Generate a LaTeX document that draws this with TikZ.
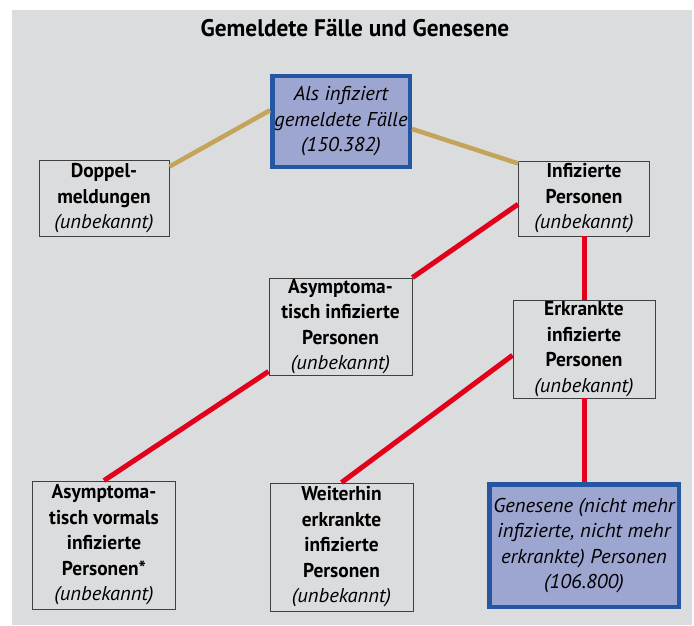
\documentclass[tikz,border=0pt]{standalone}
\usepackage{fontspec}
\setmainfont{PT Sans}[ItalicFeatures={FakeStretch=1.03}, BoldFeatures={FakeStretch=0.97}]
\usetikzlibrary{positioning}
\definecolor{bggray}{HTML}{DBDCDE}
\definecolor{boxblue}{HTML}{9DA5D1}
\definecolor{rimblue}{HTML}{2556A1}
\definecolor{linered}{HTML}{E2001A}
\definecolor{linetan}{HTML}{C4A35A}
\tikzset{
	infobox/.style={draw=black!75, line width=0.9pt, align=center, inner sep=0pt,
		font=\fontsize{20}{25.5}\selectfont},
	bluebox/.style={draw=rimblue, fill=boxblue, line width=4.5pt, align=center, inner sep=0pt,
		font=\fontsize{20}{25.5}\selectfont\itshape},
	redline/.style={linered, line width=5pt},
	tanline/.style={linetan, line width=4.5pt}
}

\begin{document}
\begin{tikzpicture}[x=1pt, y=-1pt]
		\useasboundingbox (0,0) rectangle (694,626);
		\fill[bggray] (12,10) rectangle (692,625);
		\node[font=\fontsize{24}{27}\selectfont\bfseries] (title) at (355,28) {Gemeldete Fälle und Genesene};
		% obere Reihe
		\node[bluebox, minimum width=137.5pt, minimum height=90.5pt] (faelle) at (341,121.5)
			{Als infiziert\\gemeldete Fälle\\(150.382)};
		\node[infobox, minimum width=130pt, minimum height=75.5pt] (doppel) at (104,198.5)
			{\textbf{Doppel-}\\\textbf{meldungen}\\\textit{(unbekannt)}};
		\node[infobox, minimum width=131pt, minimum height=75pt] (infiziert) at (584,198.5)
			{\textbf{Infizierte}\\\textbf{Personen}\\\textit{(unbekannt)}};
		% mittlere Reihe
		\node[infobox, minimum width=143pt, minimum height=97pt] (asyminf) at (340.5,326.5)
			{\textbf{Asymptoma-}\\\textbf{tisch infizierte}\\\textbf{Personen}\\\textit{(unbekannt)}};
		\node[infobox, minimum width=142pt, minimum height=98pt] (erkrankt) at (584,349)
			{\textbf{Erkrankte}\\\textbf{infizierte}\\\textbf{Personen}\\\textit{(unbekannt)}};
		% untere Reihe
		\node[infobox, minimum width=143pt, minimum height=128pt] (asymvor) at (104,545)
			{\textbf{Asymptoma-}\\\textbf{tisch vormals}\\\textbf{infizierte}\\\textbf{Personen*}\\\textit{(unbekannt)}};
		\node[infobox, minimum width=143pt, minimum height=128pt] (weiter) at (341.5,547)
			{\textbf{Weiterhin}\\\textbf{erkrankte}\\\textbf{infizierte}\\\textbf{Personen}\\\textit{(unbekannt)}};
		\node[bluebox, minimum width=189.5pt, minimum height=122.5pt] (genesen) at (584,545.5)
			{Genesene (nicht mehr\\infizierte, nicht mehr\\erkrankte) Personen\\(106.800)};
		% Verbindungen
		\draw[tanline] (doppel.26.6) -- (faelle.171.4);
		\draw[tanline] (faelle.-6.7) -- (infiziert.152.5);
		\draw[redline] (infiziert.185.9) -- (asyminf.north east);
		\draw[redline] (asyminf.212.5) -- (asymvor.north);
		\draw[redline] (infiziert.south) -- (erkrankt.north);
		\draw[redline] (erkrankt.185.8) -- (weiter.north);
		\draw[redline] (erkrankt.south) -- (genesen.north);
	\end{tikzpicture}
\end{document}
